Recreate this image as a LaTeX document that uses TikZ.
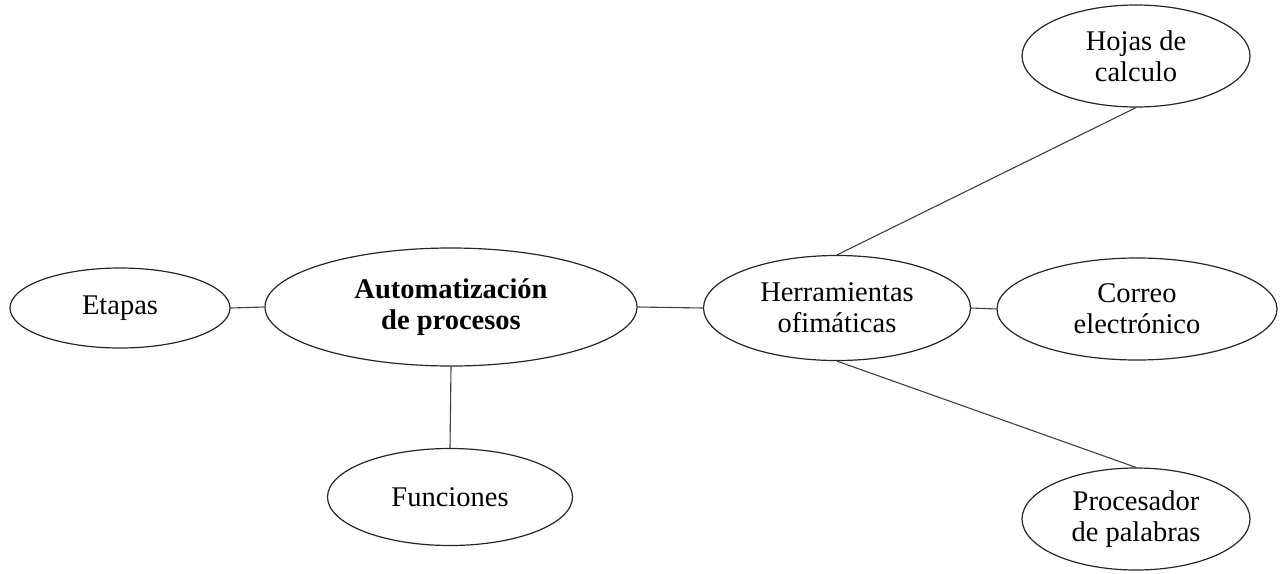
\documentclass[tikz,border=0pt]{standalone}
\usepackage{fontspec}
\setmainfont{Liberation Serif}
\usetikzlibrary{shapes.geometric}
\begin{document}
\begin{tikzpicture}[x=1pt,y=-1pt,
  bub/.style={draw=black!85, line width=1.2pt, ellipse, inner sep=0pt, align=center,
    font=\fontsize{28.5}{31}\selectfont, fill=white},
  link/.style={draw=black!75, line width=1.1pt}]
\useasboundingbox[fill=white] (0,0) rectangle (1281,573);
\node[bub, minimum width=220, minimum height=80] (et) at (120,308) {Etapas};
\node[bub, minimum width=372, minimum height=118, font=\fontsize{28.5}{31}\selectfont\bfseries] (au) at (451,307) {Automatización\\de procesos};
\node[bub, minimum width=245, minimum height=97] (fu) at (450,497) {Funciones};
\node[bub, minimum width=267, minimum height=105] (he) at (837,308) {Herramientas\\ofimáticas};
\node[bub, minimum width=228, minimum height=102] (ho) at (1136,56) {Hojas de\\calculo};
\node[bub, minimum width=280, minimum height=102] (co) at (1137,309) {Correo\\electrónico};
\node[bub, minimum width=228, minimum height=102] (pr) at (1136,519) {Procesador\\de palabras};
\draw[link] (et.east) -- (au.west);
\draw[link] (au.south) -- (fu.north);
\draw[link] (au.east) -- (he.west);
\draw[link] (he.east) -- (co.west);
\draw[link] (he.north) -- (ho.south);
\draw[link] (he.south) -- (pr.north);
\end{tikzpicture}
\end{document}
